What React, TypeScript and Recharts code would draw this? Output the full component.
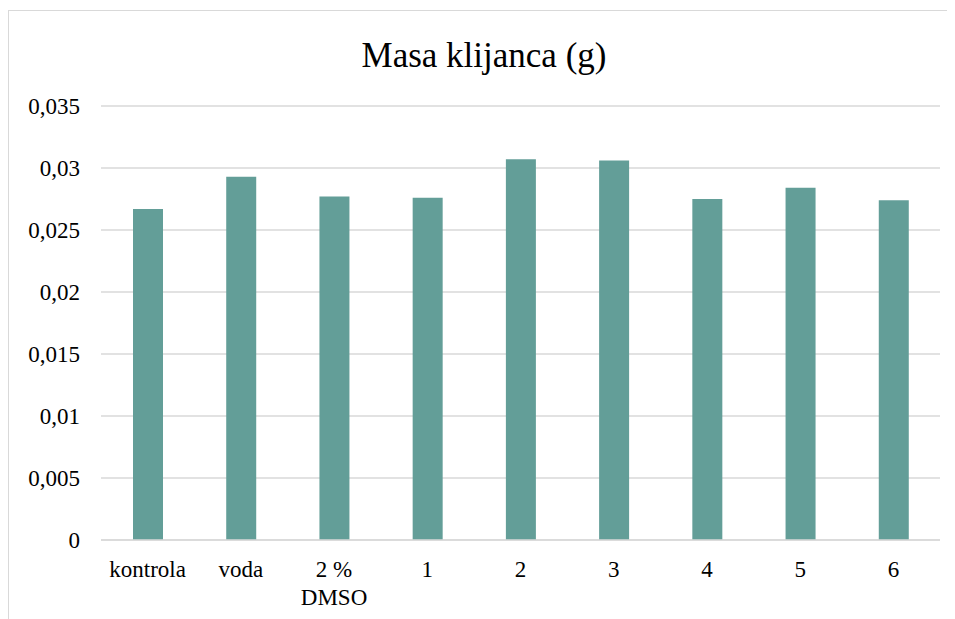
import { BarChart, Bar, XAxis, YAxis, CartesianGrid } from 'recharts';

const categories = ['kontrola', 'voda', '2 %\nDMSO', '1', '2', '3', '4', '5', '6'];
const masa = [0.0267, 0.0293, 0.0277, 0.0276, 0.0307, 0.0306, 0.0275, 0.0284, 0.0274];
const yTicks = [0, 0.005, 0.01, 0.015, 0.02, 0.025, 0.03, 0.035];

const data = categories.map((c, i) => ({ name: c, masa: masa[i] }));

const FONT = 'Liberation Serif';

// decimalni zarez kao u izvorniku
const fmt = (v: number) => String(Number(v.toFixed(3))).replace('.', ',');

const XTick = ({ x, y, payload }: any) => {
  const lines = String(payload.value).split('\n');
  return (
    <text x={x} y={y + 37} textAnchor="middle" fontFamily={FONT} fontSize={23} fill="#000">
      {lines.map((l, i) => (
        <tspan key={i} x={x} dy={i === 0 ? 0 : 28}>
          {l}
        </tspan>
      ))}
    </text>
  );
};

const YTick = ({ x, y, payload }: any) => (
  <text x={x} y={y} dy={8} textAnchor="end" fontFamily={FONT} fontSize={23} fill="#000">
    {fmt(payload.value)}
  </text>
);

const App = () => {
  return (
    <div
      style={{
        position: 'relative',
        marginTop: 2,
        width: 946,
        height: 608,
        borderLeft: '1px solid #d9d9d9',
        borderTop: '1px solid #d9d9d9',
        background: '#fff',
        overflow: 'hidden',
        fontFamily: FONT,
      }}
    >
      <div
        style={{
          position: 'absolute',
          top: 25,
          left: 0,
          width: 950,
          textAlign: 'center',
          fontSize: 35,
          color: '#000',
          lineHeight: '40px',
        }}
      >
        Masa klijanca (g)
      </div>
      <BarChart
        width={946}
        height={608}
        data={data}
        margin={{ top: 95, right: 15, left: 0, bottom: 19 }}
        barCategoryGap={0}
      >
        <CartesianGrid vertical={false} stroke="#d9d9d9" strokeWidth={1.5} />
        <XAxis
          dataKey="name"
          interval={0}
          tickLine={false}
          axisLine={{ stroke: '#d9d9d9', strokeWidth: 1.5 }}
          tickSize={0}
          tickMargin={0}
          height={60}
          tick={<XTick />}
        />
        <YAxis
          width={92}
          domain={[0, 0.035]}
          ticks={yTicks}
          axisLine={false}
          tickLine={false}
          tickSize={0}
          tickMargin={21}
          tick={<YTick />}
        />
        <Bar dataKey="masa" fill="#639E98" barSize={30} isAnimationActive={false} />
      </BarChart>
    </div>
  );
};

export default App;
